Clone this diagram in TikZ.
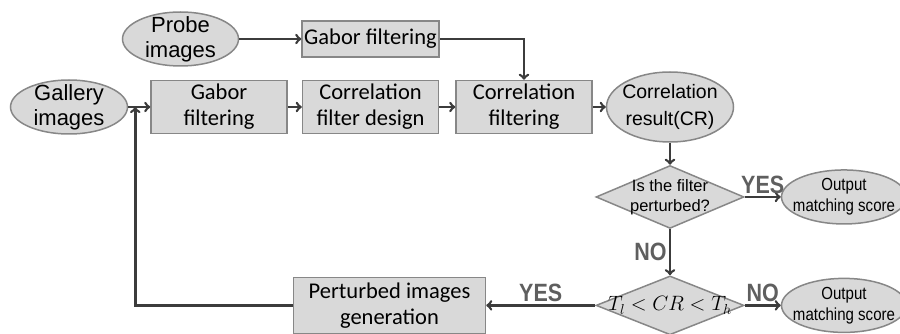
\documentclass[tikz,border=0pt]{standalone}
\usepackage{fontspec}
\setmainfont{Liberation Sans}
\newfontfamily\boxfont{Carlito}
\newfontfamily\narrowfont[FakeStretch=0.86]{Liberation Sans}
\usetikzlibrary{shapes.geometric, arrows, positioning, calc}
\definecolor{shapefill}{RGB}{217,217,217}
\definecolor{shapeline}{RGB}{135,135,135}
\definecolor{flowline}{RGB}{60,60,60}
\definecolor{labelgray}{RGB}{95,95,95}

\begin{document}
\begin{tikzpicture}[
    x=1pt, y=-1pt,
    process/.style={rectangle, draw=shapeline, line width=1.5pt, fill=shapefill, minimum width=136pt, minimum height=53pt, inner sep=0pt, align=center, font=\boxfont\fontsize{22.5}{26}\selectfont},
    terminal/.style={ellipse, draw=shapeline, line width=1.5pt, fill=shapefill, inner xsep=0pt, inner ysep=-6pt, minimum width=117pt, minimum height=54pt, align=center, font=\fontsize{22}{25}\selectfont},
    outcome/.style={terminal, inner xsep=-8pt, minimum width=125pt, font=\narrowfont\fontsize{17.5}{21}\selectfont},
    decision/.style={diamond, draw=shapeline, line width=1.5pt, fill=shapefill, aspect=2.2, inner sep=-3pt, minimum width=148pt, align=center},
    arrow/.style={->, >=to, line width=2.6pt, draw=flowline},
    answer/.style={font=\narrowfont\bfseries\fontsize{25}{25}\selectfont, text=labelgray, inner sep=2pt}
]
    \useasboundingbox (0,0) rectangle (900,334);

    % Gallery branch
    \node[terminal] (gallery) at (69,107) {Gallery\\images};
    \node[process, right=22pt of gallery] (gabor) {Gabor\\filtering};
    \node[process, right=14pt of gabor] (design) {Correlation\\filter design};
    \node[process, right=16pt of design] (corrfilt) {Correlation\\filtering};
    \node[terminal, right=13pt of corrfilt, inner xsep=-6pt, minimum width=127pt, minimum height=70pt, font=\fontsize{19.5}{27}\selectfont] (result) {Correlation\\result(CR)};

    % Probe branch
    \node[process, above=22pt of design, minimum width=137pt, minimum height=36pt] (probegabor) {Gabor filtering};
    \node[terminal, left=62pt of probegabor, minimum width=116pt] (probe) {Probe\\images};

    % Decisions
    \node[decision, below=22pt of result, font=\fontsize{16.5}{20}\selectfont] (perturbed) {Is the filter\\perturbed?};
    \node[outcome, right=36pt of perturbed] (score) {Output\\matching score};
    \node[decision, below=46pt of perturbed, aspect=2.4, inner sep=-3.5pt, font=\fontsize{20}{20}\selectfont] (thresh) {$T_l < CR < T_h$};
    \node[outcome, right=36pt of thresh] (score2) {Output\\matching score};
    \node[process, left=109pt of thresh, minimum width=192pt, minimum height=56pt] (perturb) {Perturbed images\\generation};

    \coordinate[right=7pt of gallery.east] (join);

    % Connectors
    \draw[arrow] (probe) -- (probegabor);
    \draw[arrow] (probegabor.east) -| (corrfilt.north);
    \draw[arrow] (gallery) -- (gabor);
    \draw[arrow] (gabor) -- (design);
    \draw[arrow] (design) -- (corrfilt);
    \draw[arrow] (corrfilt) -- (result);
    \draw[arrow] (result) -- (perturbed);
    \draw[arrow] (perturbed) -- node[answer, above] (yes1) {YES} (score);
    \draw[arrow] (perturbed) -- node[answer, left] (no1) {NO} (thresh);
    \draw[arrow] (thresh) -- node[answer, above] (no2) {NO} (score2);
    \draw[arrow] (thresh) -- node[answer, above] (yes2) {YES} (perturb);
    \draw[arrow] (perturb.west) -| (join);
\end{tikzpicture}
\end{document}
